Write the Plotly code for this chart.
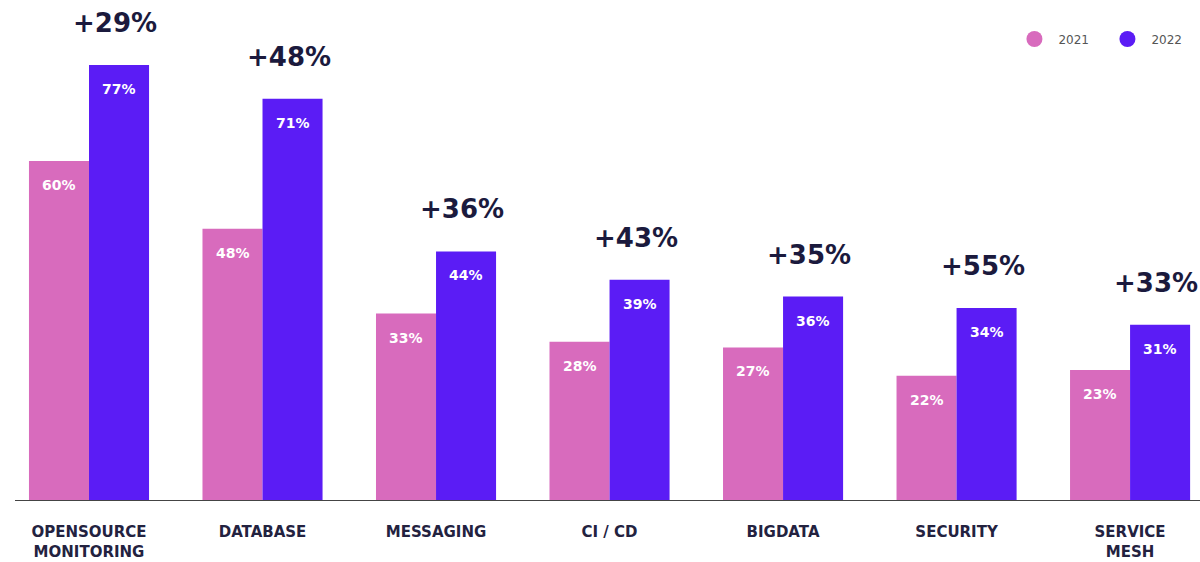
import plotly.graph_objects as go

categories = ["OPENSOURCE<br>MONITORING", "DATABASE", "MESSAGING", "CI / CD",
              "BIGDATA", "SECURITY", "SERVICE<br>MESH"]
v2021 = [60, 48, 33, 28, 27, 22, 23]
v2022 = [77, 71, 44, 39, 36, 34, 31]
growth = ["+29%", "+48%", "+36%", "+43%", "+35%", "+55%", "+33%"]
series_names = ["2021", "2022"]

C2021 = "#D86BBD"
C2022 = "#5B1CF5"
NAVY = "#1B1A3D"
FONT = "DejaVu Sans"

fig = go.Figure()
fig.add_trace(go.Bar(x=categories, y=v2021, name=series_names[0], marker_color=C2021,
                     marker_line_width=0, showlegend=False))
fig.add_trace(go.Bar(x=categories, y=v2022, name=series_names[1], marker_color=C2022,
                     marker_line_width=0, showlegend=False))
# legend entries with round markers
for nm, col in zip(series_names, [C2021, C2022]):
    fig.add_trace(go.Scatter(x=[None], y=[None], mode="markers", name=nm,
                             marker=dict(color=col, size=20, symbol="circle")))

off = 0.173
for i, (a, b, g) in enumerate(zip(v2021, v2022, growth)):
    fig.add_annotation(x=i - off, y=a, text=f"{a}%", showarrow=False, yshift=-24,
                       font=dict(family=FONT, size=14, color="white", weight="bold"))
    fig.add_annotation(x=i + off, y=b, text=f"{b}%", showarrow=False, yshift=-24,
                       font=dict(family=FONT, size=14, color="white", weight="bold"))
    fig.add_annotation(x=i + off, y=b, text=g, showarrow=False, yshift=42, xshift=-4,
                       font=dict(family=FONT, size=26, color=NAVY, weight="bold"))

fig.update_layout(
    width=1200, height=562,
    margin=dict(l=15, r=0, t=0, b=62),
    paper_bgcolor="white", plot_bgcolor="white",
    barmode="group", bargap=0.308, bargroupgap=0,
    font=dict(family=FONT),
    legend=dict(orientation="h", x=0.997, xanchor="right", y=0.922, yanchor="middle",
                font=dict(family=FONT, size=12, color="#555555"), itemwidth=38,
                entrywidth=40, bgcolor="rgba(0,0,0,0)"),
    xaxis=dict(range=[-0.4265, 6.403], showline=True, linecolor="#444444", linewidth=1,
               showgrid=False, zeroline=False, ticks="", ticklabelstandoff=18,
               tickfont=dict(family=FONT, size=15, color="#23223F", weight="bold")),
    yaxis=dict(range=[0, 88.5], visible=False, showgrid=False, zeroline=False),
)

fig.write_html("out.html", config={"displayModeBar": False},
               post_script="document.body.style.margin='0';")
